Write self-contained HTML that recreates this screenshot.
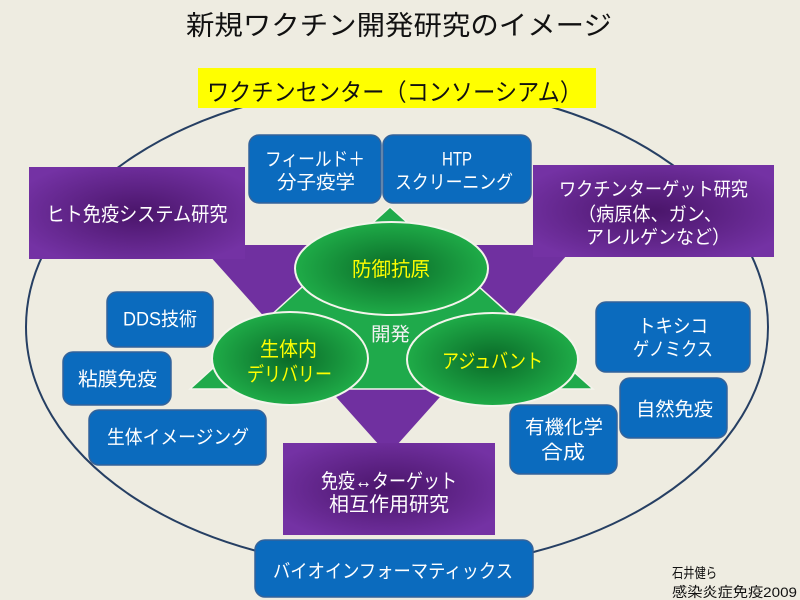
<!DOCTYPE html>
<html>
<head>
<meta charset="utf-8">
<style>
  html,body{margin:0;padding:0;background:#EEECE1;}
  svg{display:block;}
  text{font-family:"Liberation Sans","Noto Sans CJK JP",sans-serif;}
</style>
</head>
<body>
<svg width="800" height="600" viewBox="0 0 800 600" xmlns="http://www.w3.org/2000/svg">
  <defs>
    <radialGradient id="pg" cx="0.5" cy="0.5" r="0.6">
      <stop offset="0" stop-color="#4A156A"/>
      <stop offset="1" stop-color="#7432A4"/>
    </radialGradient>
    <radialGradient id="gg" cx="0.5" cy="0.5" r="0.55">
      <stop offset="0" stop-color="#0A6A28"/>
      <stop offset="1" stop-color="#21B24B"/>
    </radialGradient>
  </defs>

  <rect x="0" y="0" width="800" height="600" fill="#EEECE1"/>

  <!-- Title -->
  <text x="399" y="26" font-size="27" fill="#111" text-anchor="middle" dominant-baseline="central" textLength="426" lengthAdjust="spacingAndGlyphs">新規ワクチン開発研究のイメージ</text>

  <!-- big ellipse -->
  <ellipse cx="397" cy="327" rx="371" ry="242" fill="none" stroke="#263F63" stroke-width="2"/>

  <!-- purple inverted triangle -->
  <polygon points="200,245 576,245 388,455" fill="#7030A0"/>

  <!-- purple rects -->
  <rect x="29" y="167" width="216" height="92" fill="url(#pg)"/>
  <rect x="533" y="165" width="241" height="92" fill="url(#pg)"/>
  <rect x="283" y="443" width="212" height="92" fill="url(#pg)"/>

  <text x="137" y="215" font-size="20" fill="#fff" text-anchor="middle" dominant-baseline="central" textLength="181" lengthAdjust="spacingAndGlyphs">ヒト免疫システム研究</text>

  <text x="653.5" y="190" font-size="19" fill="#fff" text-anchor="middle" dominant-baseline="central" textLength="189" lengthAdjust="spacingAndGlyphs">ワクチンターゲット研究</text>
  <text x="650" y="215" font-size="19" fill="#fff" text-anchor="middle" dominant-baseline="central" textLength="144" lengthAdjust="spacingAndGlyphs">（病原体、ガン、</text>
  <text x="658" y="238" font-size="19" fill="#fff" text-anchor="middle" dominant-baseline="central" textLength="144" lengthAdjust="spacingAndGlyphs">アレルゲンなど）</text>

  <text x="389" y="482" font-size="20" fill="#fff" text-anchor="middle" dominant-baseline="central" textLength="136" lengthAdjust="spacingAndGlyphs">免疫↔ターゲット</text>
  <text x="389" y="505" font-size="20" fill="#fff" text-anchor="middle" dominant-baseline="central" textLength="120" lengthAdjust="spacingAndGlyphs">相互作用研究</text>

  <!-- green triangle -->
  <polygon points="390,207 190,389 593,389" fill="#1FAA4B" stroke="#F4F4EC" stroke-width="1.5"/>

  <!-- green ellipses -->
  <ellipse cx="391.5" cy="268.5" rx="96.5" ry="46.5" fill="url(#gg)" stroke="#F4F4EC" stroke-width="2"/>
  <ellipse cx="290" cy="358.5" rx="78" ry="46.5" fill="url(#gg)" stroke="#F4F4EC" stroke-width="2"/>
  <ellipse cx="492.5" cy="359.5" rx="85.5" ry="46.5" fill="url(#gg)" stroke="#F4F4EC" stroke-width="2"/>

  <text x="391" y="270" font-size="20" fill="#FFFF00" text-anchor="middle" dominant-baseline="central" textLength="78" lengthAdjust="spacingAndGlyphs">防御抗原</text>
  <text x="288.5" y="350" font-size="20" fill="#FFFF00" text-anchor="middle" dominant-baseline="central" textLength="57" lengthAdjust="spacingAndGlyphs">生体内</text>
  <text x="289.5" y="375" font-size="20" fill="#FFFF00" text-anchor="middle" dominant-baseline="central" textLength="85" lengthAdjust="spacingAndGlyphs">デリバリー</text>
  <text x="492.5" y="362" font-size="20" fill="#FFFF00" text-anchor="middle" dominant-baseline="central" textLength="101" lengthAdjust="spacingAndGlyphs">アジュバント</text>
  <text x="390.5" y="335" font-size="19" fill="#F2F2F2" text-anchor="middle" dominant-baseline="central" textLength="39" lengthAdjust="spacingAndGlyphs">開発</text>

  <!-- blue boxes -->
  <g fill="#0B6BBE" stroke="#34639A" stroke-width="1.5">
    <rect x="249" y="135" width="132" height="68" rx="10"/>
    <rect x="383" y="135" width="148" height="68" rx="10"/>
    <rect x="107" y="292" width="106" height="55" rx="10"/>
    <rect x="63" y="352" width="108" height="53" rx="10"/>
    <rect x="89" y="410" width="177" height="55" rx="10"/>
    <rect x="596" y="302" width="154" height="70" rx="10"/>
    <rect x="620" y="378" width="107" height="60" rx="10"/>
    <rect x="510" y="405" width="107" height="69" rx="10"/>
    <rect x="255" y="540" width="278" height="57" rx="10"/>
  </g>

  <g fill="#fff" font-size="19" text-anchor="middle" dominant-baseline="central">
    <text x="315" y="160" textLength="100" lengthAdjust="spacingAndGlyphs">フィールド＋</text>
    <text x="316" y="183" textLength="78" lengthAdjust="spacingAndGlyphs">分子疫学</text>
    <text x="457" y="160" textLength="30" lengthAdjust="spacingAndGlyphs">HTP</text>
    <text x="454" y="183" textLength="118" lengthAdjust="spacingAndGlyphs">スクリーニング</text>
    <text x="160" y="320" textLength="74" lengthAdjust="spacingAndGlyphs">DDS技術</text>
    <text x="117.5" y="380" textLength="79" lengthAdjust="spacingAndGlyphs">粘膜免疫</text>
    <text x="178" y="438" textLength="142" lengthAdjust="spacingAndGlyphs">生体イメージング</text>
    <text x="673" y="327" textLength="70" lengthAdjust="spacingAndGlyphs">トキシコ</text>
    <text x="673" y="350" textLength="80" lengthAdjust="spacingAndGlyphs">ゲノミクス</text>
    <text x="674.5" y="410" textLength="77" lengthAdjust="spacingAndGlyphs">自然免疫</text>
    <text x="564" y="428" textLength="78" lengthAdjust="spacingAndGlyphs">有機化学</text>
    <text x="563" y="453" textLength="44" lengthAdjust="spacingAndGlyphs">合成</text>
    <text x="393" y="572" textLength="240" lengthAdjust="spacingAndGlyphs">バイオインフォーマティックス</text>
  </g>

  <!-- yellow box -->
  <rect x="198" y="68" width="398" height="40" fill="#FFFF00"/>
  <text x="394.5" y="93" font-size="24" fill="#111" text-anchor="middle" dominant-baseline="central" textLength="375" lengthAdjust="spacingAndGlyphs">ワクチンセンター（コンソーシアム）</text>

  <!-- footer -->
  <text x="672" y="573" font-size="14" fill="#111" dominant-baseline="central" textLength="45" lengthAdjust="spacingAndGlyphs">石井健ら</text>
  <text x="672" y="592" font-size="14" fill="#111" dominant-baseline="central" textLength="125" lengthAdjust="spacingAndGlyphs">感染炎症免疫2009</text>
</svg>
</body>
</html>
